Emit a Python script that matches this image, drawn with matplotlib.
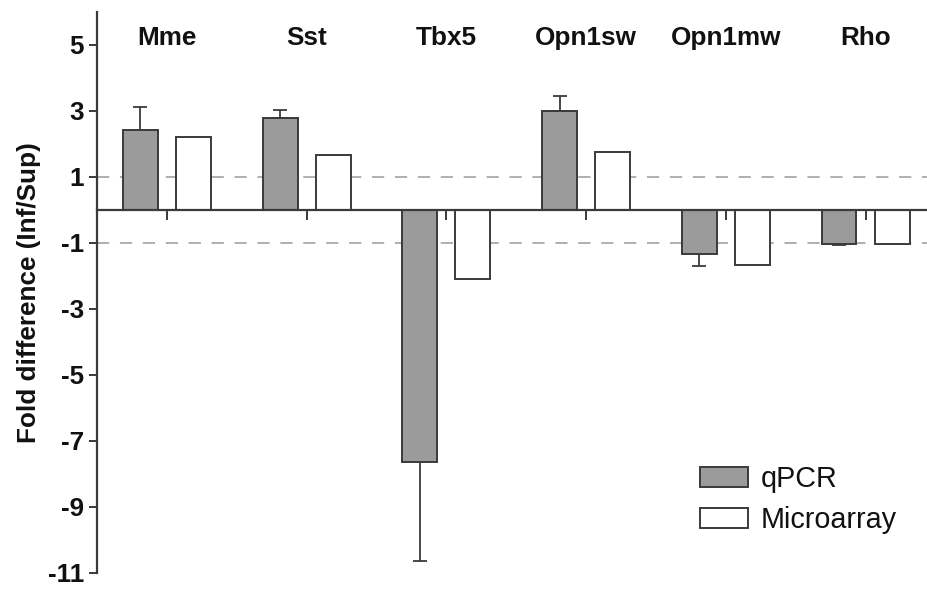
import matplotlib
matplotlib.use("Agg")
import matplotlib.pyplot as plt
import numpy as np

genes = ["Mme", "Sst", "Tbx5", "Opn1sw", "Opn1mw", "Rho"]
qpcr = [2.42, 2.80, -7.63, 3.00, -1.34, -1.04]
qpcr_err = [0.70, 0.23, 3.00, 0.46, 0.35, 0.03]
micro = [2.21, 1.67, -2.09, 1.77, -1.66, -1.02]
yticks = [5, 3, 1, -1, -3, -5, -7, -9, -11]

plt.rcParams['font.family'] = ['Liberation Sans', 'DejaVu Sans']

fig = plt.figure(figsize=(9.27, 5.90), dpi=100)
ax = fig.add_axes([97/927, 1-573/590, 1-97/927, (573-12)/590])

x = np.arange(len(genes))
w = 0.25
off = 0.19
dark = '#3a3a3a'

ax.axhline(1, color='#9a9a9a', lw=1.1, ls=(0, (8, 7)), zorder=1)
ax.axhline(-1, color='#9a9a9a', lw=1.1, ls=(0, (8, 7)), zorder=1)

qerr = np.array(qpcr_err)
qv = np.array(qpcr)
lower = np.where(qv < 0, qerr, 0)
upper = np.where(qv > 0, qerr, 0)

ax.bar(x - off, qpcr, w, color='#9b9b9b', edgecolor=dark, linewidth=1.4, zorder=3, label='qPCR')
ax.bar(x + off, micro, w, color='white', edgecolor=dark, linewidth=1.4, zorder=3, label='Microarray')
ax.errorbar(x - off, qpcr, yerr=[lower, upper], fmt='none', ecolor=dark, elinewidth=1.3,
            capsize=5, capthick=1.3, zorder=2)

for xi, g in zip(x, genes):
    ax.text(xi, 5.2, g, ha='center', va='center', fontsize=18.8, fontweight='bold', color='#111111')

ax.set_ylim(-11, 6)
ax.set_xlim(-0.5, 5.44)
ax.set_yticks(yticks)
ax.set_yticklabels([str(t) for t in yticks], fontsize=18.7, fontweight='bold')
ax.set_xticks(x)
ax.set_xticklabels([])

for s in ['top', 'right']:
    ax.spines[s].set_visible(False)
ax.spines['bottom'].set_position(('data', 0))
ax.spines['bottom'].set_color(dark)
ax.spines['bottom'].set_linewidth(1.6)
ax.spines['bottom'].set_zorder(4)
ax.spines['left'].set_color(dark)
ax.spines['left'].set_linewidth(1.6)
ax.spines['left'].set_bounds(-11, 6)
ax.tick_params(axis='y', length=5.5, width=1.4, color=dark, pad=4, labelcolor='#111111')
ax.tick_params(axis='x', length=7, width=1.4, color=dark, direction='out')

ax.set_ylabel('Fold difference (Inf/Sup)', fontsize=18.8, fontweight='bold', color='#111111')
ax.yaxis.set_label_coords(-0.068, 0.5)

leg = ax.legend(loc='upper left', bbox_to_anchor=(703/927 - 0.003, 1 - 465/590), bbox_transform=fig.transFigure,
                frameon=False, fontsize=20.7, handlelength=1.65, handleheight=0.72,
                handletextpad=0.45, labelspacing=0.45, borderpad=0, borderaxespad=0)
for t in leg.get_texts():
    t.set_color('#111111')

fig.savefig('out.png', dpi=100)
